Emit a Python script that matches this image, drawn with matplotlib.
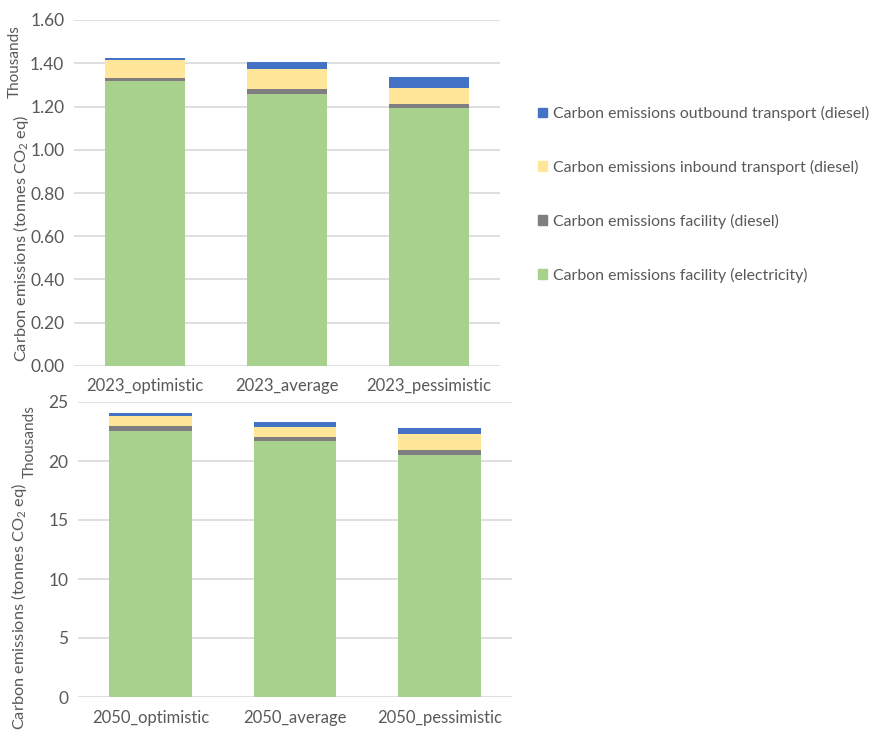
import matplotlib
matplotlib.use("Agg")
import matplotlib.pyplot as plt
from matplotlib.patches import Patch
import numpy as np

plt.rcParams['font.family'] = ['Lato', 'DejaVu Sans']
plt.rcParams['mathtext.fontset'] = 'custom'
plt.rcParams['mathtext.rm'] = 'Lato'

series = ["Carbon emissions facility (electricity)",
          "Carbon emissions facility (diesel)",
          "Carbon emissions inbound transport (diesel)",
          "Carbon emissions outbound transport (diesel)"]
colors = ["#A9D18E", "#7F7F7F", "#FFE699", "#4472C4"]

cats_2023 = ["2023_optimistic", "2023_average", "2023_pessimistic"]
elec_2023 = [1.316, 1.258, 1.191]
fdiesel_2023 = [0.017, 0.023, 0.022]
inbound_2023 = [0.082, 0.091, 0.074]
outbound_2023 = [0.011, 0.032, 0.051]

cats_2050 = ["2050_optimistic", "2050_average", "2050_pessimistic"]
elec_2050 = [22.55, 21.67, 20.51]
fdiesel_2050 = [0.42, 0.37, 0.42]
inbound_2050 = [0.88, 0.81, 1.36]
outbound_2050 = [0.22, 0.43, 0.48]

yticks_2023 = [0.0, 0.2, 0.4, 0.6, 0.8, 1.0, 1.2, 1.4, 1.6]
yticks_2050 = [0, 5, 10, 15, 20, 25]

W, H = 877, 734
fig = plt.figure(figsize=(W/100, H/100), dpi=100)
txt = "#595959"
grid = "#D9D9D9"

def panel(rect, cats, data, yticks, fmt):
    ax = fig.add_axes(rect)
    x = np.arange(len(cats))
    bottom = np.zeros(len(cats))
    for vals, c in zip(data, colors):
        ax.bar(x, vals, 0.57, bottom=bottom, color=c, zorder=3)
        bottom += np.array(vals)
    ax.set_xlim(-0.5, len(cats) - 0.5)
    ax.set_ylim(yticks[0], yticks[-1])
    ax.set_yticks(yticks)
    ax.set_yticklabels([fmt.format(v) for v in yticks])
    for v in yticks:
        ax.axhline(v, color=grid, lw=1.2, zorder=1)
    ax.set_xticks(x)
    ax.set_xticklabels(cats)
    for s in ax.spines.values():
        s.set_visible(False)
    ax.tick_params(length=0, labelsize=12, colors=txt, pad=9)
    ax.tick_params(axis='y', pad=7, labelsize=12.5)
    return ax

ax1 = panel([74/W, 1-366/H, 426/W, 346/H], cats_2023,
            [elec_2023, fdiesel_2023, inbound_2023, outbound_2023], yticks_2023, "{:.2f}")
ax2 = panel([78/W, 1-697/H, 434/W, 295/H], cats_2050,
            [elec_2050, fdiesel_2050, inbound_2050, outbound_2050], yticks_2050, "{:d}")

ylab = "Carbon emissions (tonnes CO$_\\mathregular{2}$ eq)"
fig.text(21/W, 1-238/H, ylab, rotation=90, ha='center', va='center', fontsize=11.8, color=txt)
fig.text(15/W, 1-62/H, "Thousands", rotation=90, ha='center', va='center', fontsize=11, color=txt)
fig.text(19/W, 1-606/H, ylab, rotation=90, ha='center', va='center', fontsize=11.8, color=txt)
fig.text(30/W, 1-442/H, "Thousands", rotation=90, ha='center', va='center', fontsize=11, color=txt)

handles = [Patch(color=c, label=s) for s, c in zip(series, colors)][::-1]
fig.legend(handles=handles, loc='upper left', bbox_to_anchor=(530/W, 1-98/H),
           frameon=False, fontsize=11.4, labelcolor=txt, handlelength=0.55,
           handleheight=0.55, handletextpad=0.4, labelspacing=2.45, borderpad=0)

fig.savefig("out.png", dpi=100)
